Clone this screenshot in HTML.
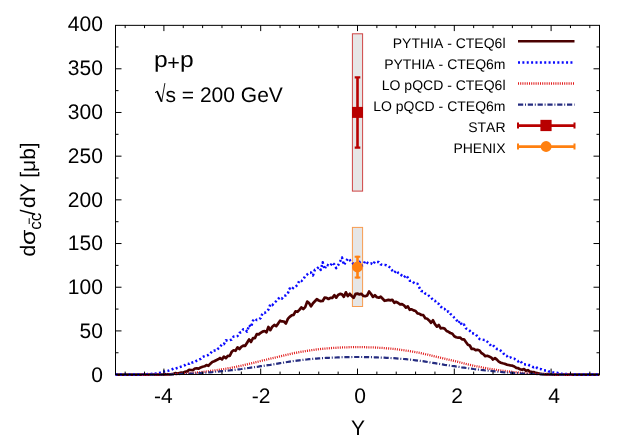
<!DOCTYPE html>
<html><head><meta charset="utf-8"><title>chart</title><style>html,body{margin:0;padding:0;background:#fff}svg{display:block;text-rendering:geometricPrecision;font-kerning:none;will-change:transform}</style></head><body>
<svg width="631" height="442" viewBox="0 0 631 442">
<rect width="631" height="442" fill="#fff"/>
<rect x="352.4" y="33.8" width="10.2" height="157.3" fill="#e6e6e6" stroke="#cf4444" stroke-width="1"/>
<rect x="352.4" y="227.4" width="10.2" height="79.1" fill="#e6e6e6" stroke="#f79c50" stroke-width="1"/>
<g fill="none" stroke-linejoin="round">
<path d="M115.5 374.6 L117.4 374.6 L119.4 374.6 L121.3 374.6 L123.2 374.6 L125.2 374.6 L127.1 374.6 L129.1 374.6 L131.0 374.6 L132.9 374.6 L134.9 374.6 L136.8 374.6 L138.7 374.6 L140.7 374.6 L142.6 374.6 L144.5 374.6 L146.5 374.6 L148.4 374.6 L150.3 374.6 L152.3 374.6 L154.2 374.6 L156.2 374.6 L158.1 374.5 L160.0 374.6 L162.0 374.6 L163.9 374.6 L165.8 374.4 L167.8 374.4 L169.7 374.3 L171.6 374.1 L173.6 373.7 L175.5 373.1 L177.5 373.5 L179.4 373.0 L181.3 372.6 L183.3 372.8 L185.2 371.8 L187.1 371.4 L189.1 369.9 L191.0 370.0 L192.9 370.2 L194.9 368.5 L196.8 368.4 L198.7 368.7 L200.7 367.4 L202.6 366.7 L204.6 366.3 L206.5 365.0 L208.4 365.9 L210.4 363.7 L212.3 362.0 L214.2 361.3 L216.2 360.2 L218.1 359.3 L220.0 358.0 L222.0 359.4 L223.9 356.6 L225.9 358.1 L227.8 355.8 L229.7 356.0 L231.7 351.8 L233.6 350.3 L235.5 350.8 L237.5 347.4 L239.4 349.0 L241.3 346.8 L243.3 345.6 L245.2 345.8 L247.1 342.7 L249.1 339.5 L251.0 342.0 L253.0 338.1 L254.9 338.1 L256.8 334.0 L258.8 334.4 L260.7 332.8 L262.6 331.6 L264.6 331.0 L266.5 332.3 L268.4 327.0 L270.4 330.2 L272.3 326.7 L274.3 325.0 L276.2 326.2 L278.1 323.6 L280.1 320.7 L282.0 321.4 L283.9 321.5 L285.9 323.5 L287.8 318.9 L289.7 316.8 L291.7 315.3 L293.6 314.9 L295.5 311.3 L297.5 311.8 L299.4 309.9 L301.4 307.4 L303.3 309.1 L305.2 307.1 L307.2 301.6 L309.1 303.1 L311.0 306.3 L313.0 303.2 L314.9 301.2 L316.8 299.2 L318.8 300.5 L320.7 301.2 L322.7 301.0 L324.6 297.7 L326.5 297.8 L328.5 299.0 L330.4 297.9 L332.3 297.9 L334.3 295.2 L336.2 297.6 L338.1 295.0 L340.1 293.9 L342.0 294.4 L343.9 296.8 L345.9 292.3 L347.8 296.1 L349.8 293.8 L351.7 296.0 L353.6 297.9 L355.6 293.8 L357.5 293.6 L359.4 294.4 L361.4 293.8 L363.3 295.9 L365.2 296.2 L367.2 295.4 L369.1 291.5 L371.1 294.0 L373.0 296.9 L374.9 295.2 L376.9 297.3 L378.8 297.7 L380.7 296.7 L382.7 298.8 L384.6 300.8 L386.5 300.4 L388.5 299.9 L390.4 300.4 L392.3 299.8 L394.3 302.8 L396.2 301.8 L398.2 303.0 L400.1 304.4 L402.0 304.1 L404.0 305.3 L405.9 307.6 L407.8 306.3 L409.8 309.8 L411.7 309.3 L413.6 310.4 L415.6 311.0 L417.5 313.4 L419.5 313.8 L421.4 315.0 L423.3 315.1 L425.3 318.3 L427.2 318.7 L429.1 320.4 L431.1 322.8 L433.0 320.3 L434.9 324.1 L436.9 326.6 L438.8 325.0 L440.7 328.3 L442.7 328.0 L444.6 328.6 L446.6 331.0 L448.5 331.8 L450.4 333.0 L452.4 333.8 L454.3 336.3 L456.2 337.3 L458.2 337.7 L460.1 337.5 L462.0 339.4 L464.0 339.3 L465.9 342.0 L467.9 344.7 L469.8 345.5 L471.7 349.0 L473.7 348.9 L475.6 350.1 L477.5 349.8 L479.5 350.5 L481.4 353.0 L483.3 354.1 L485.3 356.2 L487.2 355.8 L489.1 356.6 L491.1 357.4 L493.0 359.5 L495.0 358.1 L496.9 359.6 L498.8 361.6 L500.8 362.7 L502.7 363.3 L504.6 363.7 L506.6 364.6 L508.5 365.0 L510.4 365.4 L512.4 365.7 L514.3 366.5 L516.3 367.9 L518.2 368.2 L520.1 369.2 L522.1 369.8 L524.0 369.1 L525.9 370.8 L527.9 370.2 L529.8 371.6 L531.7 371.9 L533.7 372.1 L535.6 372.9 L537.5 373.2 L539.5 373.6 L541.4 373.9 L543.4 374.1 L545.3 374.3 L547.2 374.2 L549.2 374.5 L551.1 374.4 L553.0 374.6 L555.0 374.6 L556.9 374.6 L558.8 374.6 L560.8 374.6 L562.7 374.6 L564.7 374.6 L566.6 374.6 L568.5 374.6 L570.5 374.6 L572.4 374.6 L574.3 374.6 L576.3 374.6 L578.2 374.6 L580.1 374.6 L582.1 374.6 L584.0 374.6 L585.9 374.6 L587.9 374.6 L589.8 374.6 L591.8 374.6 L593.7 374.6 L595.6 374.6 L597.6 374.6 L599.5 374.6" stroke="#4a0000" stroke-width="2.7"/>
<path d="M115.5 374.6 L117.4 374.6 L119.4 374.6 L121.3 374.6 L123.2 374.6 L125.2 374.6 L127.1 374.6 L129.1 374.6 L131.0 374.6 L132.9 374.6 L134.9 374.6 L136.8 374.6 L138.7 374.6 L140.7 374.5 L142.6 374.6 L144.5 374.5 L146.5 374.2 L148.4 374.0 L150.3 374.3 L152.3 373.8 L154.2 373.8 L156.2 373.5 L158.1 373.2 L160.0 372.7 L162.0 371.9 L163.9 371.6 L165.8 371.3 L167.8 370.9 L169.7 370.2 L171.6 369.6 L173.6 368.6 L175.5 368.7 L177.5 367.8 L179.4 367.2 L181.3 366.5 L183.3 365.7 L185.2 365.0 L187.1 363.6 L189.1 363.8 L191.0 362.0 L192.9 362.5 L194.9 361.8 L196.8 360.6 L198.7 359.6 L200.7 358.8 L202.6 357.0 L204.6 356.1 L206.5 355.5 L208.4 355.0 L210.4 353.6 L212.3 350.8 L214.2 350.5 L216.2 350.7 L218.1 348.7 L220.0 347.2 L222.0 344.1 L223.9 344.2 L225.9 340.3 L227.8 340.9 L229.7 340.2 L231.7 339.6 L233.6 336.6 L235.5 336.7 L237.5 336.1 L239.4 332.9 L241.3 332.2 L243.3 329.2 L245.2 329.3 L247.1 331.6 L249.1 325.1 L251.0 327.1 L253.0 320.7 L254.9 318.6 L256.8 320.1 L258.8 319.5 L260.7 318.1 L262.6 313.0 L264.6 312.9 L266.5 311.8 L268.4 309.6 L270.4 304.2 L272.3 305.2 L274.3 302.9 L276.2 301.1 L278.1 299.0 L280.1 297.2 L282.0 298.6 L283.9 296.0 L285.9 295.3 L287.8 293.5 L289.7 288.5 L291.7 289.8 L293.6 287.3 L295.5 286.8 L297.5 284.9 L299.4 280.5 L301.4 281.1 L303.3 279.4 L305.2 275.9 L307.2 274.4 L309.1 272.6 L311.0 272.6 L313.0 275.4 L314.9 269.6 L316.8 268.9 L318.8 267.0 L320.7 269.9 L322.7 262.3 L324.6 269.3 L326.5 264.6 L328.5 265.4 L330.4 265.9 L332.3 262.6 L334.3 264.4 L336.2 268.1 L338.1 265.3 L340.1 261.5 L342.0 257.5 L343.9 265.0 L345.9 261.8 L347.8 258.5 L349.8 260.1 L351.7 262.0 L353.6 264.1 L355.6 264.8 L357.5 262.6 L359.4 261.8 L361.4 265.9 L363.3 264.9 L365.2 261.0 L367.2 262.7 L369.1 263.8 L371.1 263.4 L373.0 264.6 L374.9 261.5 L376.9 261.9 L378.8 262.0 L380.7 264.4 L382.7 265.0 L384.6 264.9 L386.5 265.3 L388.5 266.5 L390.4 267.6 L392.3 270.6 L394.3 272.7 L396.2 270.6 L398.2 272.8 L400.1 273.7 L402.0 275.8 L404.0 277.3 L405.9 275.3 L407.8 277.6 L409.8 280.8 L411.7 280.7 L413.6 282.5 L415.6 284.0 L417.5 283.8 L419.5 288.0 L421.4 291.0 L423.3 291.2 L425.3 293.6 L427.2 294.0 L429.1 296.0 L431.1 297.5 L433.0 300.1 L434.9 300.7 L436.9 303.3 L438.8 303.9 L440.7 306.4 L442.7 308.8 L444.6 308.9 L446.6 311.7 L448.5 311.4 L450.4 313.9 L452.4 315.6 L454.3 317.6 L456.2 319.4 L458.2 323.1 L460.1 321.0 L462.0 325.5 L464.0 324.6 L465.9 328.4 L467.9 329.2 L469.8 330.8 L471.7 333.3 L473.7 333.6 L475.6 334.2 L477.5 336.7 L479.5 339.0 L481.4 339.5 L483.3 339.8 L485.3 340.0 L487.2 341.6 L489.1 343.4 L491.1 346.0 L493.0 345.2 L495.0 347.4 L496.9 349.0 L498.8 349.2 L500.8 350.8 L502.7 352.3 L504.6 355.1 L506.6 355.8 L508.5 357.9 L510.4 357.4 L512.4 358.5 L514.3 358.7 L516.3 360.1 L518.2 361.4 L520.1 360.4 L522.1 363.3 L524.0 364.2 L525.9 364.4 L527.9 364.4 L529.8 365.6 L531.7 366.3 L533.7 367.3 L535.6 366.6 L537.5 368.3 L539.5 369.1 L541.4 369.2 L543.4 370.1 L545.3 370.4 L547.2 370.3 L549.2 371.6 L551.1 371.9 L553.0 372.4 L555.0 372.7 L556.9 372.8 L558.8 373.2 L560.8 373.7 L562.7 374.0 L564.7 374.1 L566.6 374.1 L568.5 374.4 L570.5 374.5 L572.4 374.6 L574.3 374.5 L576.3 374.6 L578.2 374.6 L580.1 374.6 L582.1 374.6 L584.0 374.6 L585.9 374.6 L587.9 374.6 L589.8 374.6 L591.8 374.6 L593.7 374.6 L595.6 374.6 L597.6 374.6 L599.5 374.6" stroke="#0a0aff" stroke-width="2.5" stroke-dasharray="2 2.37"/>
<path d="M142.1 374.6 L144.5 374.6 L147.0 374.6 L149.4 374.6 L151.8 374.6 L154.2 374.6 L156.6 374.5 L159.1 374.5 L161.5 374.5 L163.9 374.4 L166.3 374.4 L168.7 374.3 L171.2 374.2 L173.6 374.2 L176.0 374.1 L178.4 373.9 L180.8 373.8 L183.3 373.6 L185.7 373.5 L188.1 373.3 L190.5 373.1 L192.9 372.9 L195.4 372.7 L197.8 372.4 L200.2 372.2 L202.6 371.9 L205.0 371.6 L207.5 371.4 L209.9 371.0 L212.3 370.7 L214.7 370.4 L217.1 370.1 L219.6 369.7 L222.0 369.3 L224.4 369.0 L226.8 368.6 L229.2 368.1 L231.7 367.7 L234.1 367.2 L236.5 366.7 L238.9 366.2 L241.3 365.7 L243.8 365.1 L246.2 364.6 L248.6 364.0 L251.0 363.4 L253.4 362.8 L255.9 362.2 L258.3 361.6 L260.7 361.0 L263.1 360.4 L265.5 359.9 L268.0 359.3 L270.4 358.7 L272.8 358.1 L275.2 357.6 L277.6 357.0 L280.1 356.4 L282.5 355.8 L284.9 355.2 L287.3 354.6 L289.7 354.1 L292.2 353.5 L294.6 353.0 L297.0 352.6 L299.4 352.1 L301.8 351.7 L304.3 351.3 L306.7 350.9 L309.1 350.6 L311.5 350.2 L313.9 349.9 L316.4 349.5 L318.8 349.2 L321.2 348.9 L323.6 348.7 L326.0 348.5 L328.5 348.3 L330.9 348.1 L333.3 347.9 L335.7 347.8 L338.1 347.6 L340.6 347.5 L343.0 347.4 L345.4 347.3 L347.8 347.3 L350.2 347.2 L352.7 347.1 L355.1 347.1 L357.5 347.1 L359.9 347.1 L362.3 347.1 L364.8 347.2 L367.2 347.3 L369.6 347.3 L372.0 347.4 L374.4 347.5 L376.9 347.6 L379.3 347.8 L381.7 347.9 L384.1 348.1 L386.5 348.3 L389.0 348.5 L391.4 348.7 L393.8 348.9 L396.2 349.2 L398.6 349.5 L401.1 349.9 L403.5 350.2 L405.9 350.6 L408.3 350.9 L410.7 351.3 L413.2 351.7 L415.6 352.1 L418.0 352.6 L420.4 353.0 L422.8 353.5 L425.3 354.1 L427.7 354.6 L430.1 355.2 L432.5 355.8 L434.9 356.4 L437.4 357.0 L439.8 357.6 L442.2 358.1 L444.6 358.7 L447.0 359.3 L449.5 359.9 L451.9 360.4 L454.3 361.0 L456.7 361.6 L459.1 362.2 L461.6 362.8 L464.0 363.4 L466.4 364.0 L468.8 364.6 L471.2 365.1 L473.7 365.7 L476.1 366.2 L478.5 366.7 L480.9 367.2 L483.3 367.7 L485.8 368.1 L488.2 368.6 L490.6 369.0 L493.0 369.3 L495.4 369.7 L497.9 370.1 L500.3 370.4 L502.7 370.7 L505.1 371.0 L507.5 371.4 L510.0 371.6 L512.4 371.9 L514.8 372.2 L517.2 372.4 L519.6 372.7 L522.1 372.9 L524.5 373.1 L526.9 373.3 L529.3 373.5 L531.7 373.6 L534.2 373.8 L536.6 373.9 L539.0 374.1 L541.4 374.2 L543.8 374.2 L546.3 374.3 L548.7 374.4 L551.1 374.4 L553.5 374.5 L555.9 374.5 L558.4 374.5 L560.8 374.6 L563.2 374.6 L565.6 374.6 L568.0 374.6 L570.5 374.6 L572.9 374.6" stroke="#e01818" stroke-width="2.3" stroke-dasharray="1 1.2"/>
<path d="M149.4 374.6 L151.8 374.6 L154.2 374.6 L156.6 374.6 L159.1 374.6 L161.5 374.5 L163.9 374.5 L166.3 374.4 L168.7 374.4 L171.2 374.3 L173.6 374.3 L176.0 374.2 L178.4 374.1 L180.8 374.0 L183.3 373.9 L185.7 373.8 L188.1 373.7 L190.5 373.6 L192.9 373.5 L195.4 373.4 L197.8 373.2 L200.2 373.1 L202.6 372.9 L205.0 372.7 L207.5 372.5 L209.9 372.3 L212.3 372.1 L214.7 371.8 L217.1 371.6 L219.6 371.4 L222.0 371.1 L224.4 370.9 L226.8 370.7 L229.2 370.5 L231.7 370.2 L234.1 370.0 L236.5 369.6 L238.9 369.3 L241.3 369.0 L243.8 368.6 L246.2 368.3 L248.6 368.0 L251.0 367.6 L253.4 367.3 L255.9 366.9 L258.3 366.6 L260.7 366.2 L263.1 365.9 L265.5 365.5 L268.0 365.1 L270.4 364.8 L272.8 364.4 L275.2 364.0 L277.6 363.6 L280.1 363.2 L282.5 362.8 L284.9 362.4 L287.3 362.0 L289.7 361.6 L292.2 361.2 L294.6 360.9 L297.0 360.6 L299.4 360.3 L301.8 360.0 L304.3 359.7 L306.7 359.5 L309.1 359.2 L311.5 359.0 L313.9 358.8 L316.4 358.6 L318.8 358.4 L321.2 358.2 L323.6 358.1 L326.0 357.9 L328.5 357.8 L330.9 357.7 L333.3 357.6 L335.7 357.5 L338.1 357.4 L340.6 357.3 L343.0 357.2 L345.4 357.2 L347.8 357.1 L350.2 357.1 L352.7 357.0 L355.1 357.0 L357.5 357.0 L359.9 357.0 L362.3 357.0 L364.8 357.1 L367.2 357.1 L369.6 357.2 L372.0 357.2 L374.4 357.3 L376.9 357.4 L379.3 357.5 L381.7 357.6 L384.1 357.7 L386.5 357.8 L389.0 357.9 L391.4 358.1 L393.8 358.2 L396.2 358.4 L398.6 358.6 L401.1 358.8 L403.5 359.0 L405.9 359.2 L408.3 359.5 L410.7 359.7 L413.2 360.0 L415.6 360.3 L418.0 360.6 L420.4 360.9 L422.8 361.2 L425.3 361.6 L427.7 362.0 L430.1 362.4 L432.5 362.8 L434.9 363.2 L437.4 363.6 L439.8 364.0 L442.2 364.4 L444.6 364.8 L447.0 365.1 L449.5 365.5 L451.9 365.9 L454.3 366.2 L456.7 366.6 L459.1 366.9 L461.6 367.3 L464.0 367.6 L466.4 368.0 L468.8 368.3 L471.2 368.6 L473.7 369.0 L476.1 369.3 L478.5 369.6 L480.9 370.0 L483.3 370.2 L485.8 370.5 L488.2 370.7 L490.6 370.9 L493.0 371.1 L495.4 371.4 L497.9 371.6 L500.3 371.8 L502.7 372.1 L505.1 372.3 L507.5 372.5 L510.0 372.7 L512.4 372.9 L514.8 373.1 L517.2 373.2 L519.6 373.4 L522.1 373.5 L524.5 373.6 L526.9 373.7 L529.3 373.8 L531.7 373.9 L534.2 374.0 L536.6 374.1 L539.0 374.2 L541.4 374.3 L543.8 374.3 L546.3 374.4 L548.7 374.4 L551.1 374.5 L553.5 374.5 L555.9 374.6 L558.4 374.6 L560.8 374.6 L563.2 374.6 L565.6 374.6" stroke="#252c80" stroke-width="2.2" stroke-dasharray="5.2 1.8 1 1.8"/>
</g>
<g stroke="#000" stroke-width="1" fill="none">
<rect x="115.5" y="25.35" width="484.0" height="349.15"/>
<path d="M125.18 374.6v-3M125.18 25.1v3M144.54 374.6v-3M144.54 25.1v3M163.90 374.6v-6M163.90 25.1v6M183.26 374.6v-3M183.26 25.1v3M202.62 374.6v-3M202.62 25.1v3M221.98 374.6v-3M221.98 25.1v3M241.34 374.6v-3M241.34 25.1v3M260.70 374.6v-6M260.70 25.1v6M280.06 374.6v-3M280.06 25.1v3M299.42 374.6v-3M299.42 25.1v3M318.78 374.6v-3M318.78 25.1v3M338.14 374.6v-3M338.14 25.1v3M357.50 374.6v-6M357.50 25.1v6M376.86 374.6v-3M376.86 25.1v3M396.22 374.6v-3M396.22 25.1v3M415.58 374.6v-3M415.58 25.1v3M434.94 374.6v-3M434.94 25.1v3M454.30 374.6v-6M454.30 25.1v6M473.66 374.6v-3M473.66 25.1v3M493.02 374.6v-3M493.02 25.1v3M512.38 374.6v-3M512.38 25.1v3M531.74 374.6v-3M531.74 25.1v3M551.10 374.6v-6M551.10 25.1v6M570.46 374.6v-3M570.46 25.1v3M589.82 374.6v-3M589.82 25.1v3M115.5 352.76h3M599.5 352.76h-3M115.5 330.91h6M599.5 330.91h-6M115.5 309.07h3M599.5 309.07h-3M115.5 287.23h6M599.5 287.23h-6M115.5 265.38h3M599.5 265.38h-3M115.5 243.54h6M599.5 243.54h-6M115.5 221.69h3M599.5 221.69h-3M115.5 199.85h6M599.5 199.85h-6M115.5 178.01h3M599.5 178.01h-3M115.5 156.16h6M599.5 156.16h-6M115.5 134.32h3M599.5 134.32h-3M115.5 112.48h6M599.5 112.48h-6M115.5 90.63h3M599.5 90.63h-3M115.5 68.79h6M599.5 68.79h-6M115.5 46.94h3M599.5 46.94h-3"/>
</g>
<g stroke="#b80000" fill="none"><path stroke-width="2.6" d="M357.5 77.5V147.4"/><path stroke-width="2.3" d="M354.7 77.38h5.6M354.7 147.58h5.6"/></g>
<rect x="352" y="106.9" width="11" height="11" fill="#b80000"/>
<g stroke="#ff8010" fill="none"><path stroke-width="2.6" d="M357.5 255.8V278.5"/><path stroke-width="2" d="M354.7 256.8h5.6M354.7 277.5h5.6"/></g>
<circle cx="357.4" cy="267" r="5.4" fill="#ff8010"/>
<g fill="none">
<path d="M518 41.25H574.5" stroke="#4a0000" stroke-width="2.6"/>
<path d="M518 62.4H574.5" stroke="#0a0aff" stroke-width="2.5" stroke-dasharray="2 2.37"/>
<path d="M518 83.5H574.5" stroke="#e01818" stroke-width="2.3" stroke-dasharray="1 1.2"/>
<path d="M518 104.6H574.5" stroke="#252c80" stroke-width="2.2" stroke-dasharray="5.2 1.8 1 1.8"/>
<path d="M518 125.6H574.5" stroke="#b80000" stroke-width="2.6"/><path d="M518 122.6v6M574.5 122.6v6" stroke="#b80000" stroke-width="2"/>
<path d="M518 146.6H574.5" stroke="#ff8010" stroke-width="2.6"/><path d="M518 143.6v6M574.5 143.6v6" stroke="#ff8010" stroke-width="2"/>
</g>
<rect x="540.4" y="119.85" width="11.2" height="11.25" fill="#b80000"/>
<circle cx="546.1" cy="146.5" r="5.45" fill="#ff8010"/>
<g font-family="'Liberation Sans', sans-serif" fill="#000">
<text x="505.5" y="47.5" font-size="14" text-anchor="end">PYTHIA - CTEQ6l</text>
<text x="505.5" y="68.7" font-size="14" text-anchor="end">PYTHIA - CTEQ6m</text>
<text x="505.5" y="89.9" font-size="14" text-anchor="end">LO pQCD - CTEQ6l</text>
<text x="505.5" y="111.0" font-size="14" text-anchor="end">LO pQCD - CTEQ6m</text>
<text x="505.5" y="132.0" font-size="14" text-anchor="end">STAR</text>
<text x="505.5" y="153.0" font-size="14" text-anchor="end">PHENIX</text>
<text x="102.9" y="381.9" font-size="21" text-anchor="end">0</text>
<text x="102.9" y="338.1" font-size="21" text-anchor="end">50</text>
<text x="102.9" y="294.2" font-size="21" text-anchor="end">100</text>
<text x="102.9" y="250.4" font-size="21" text-anchor="end">150</text>
<text x="102.9" y="206.5" font-size="21" text-anchor="end">200</text>
<text x="102.9" y="162.7" font-size="21" text-anchor="end">250</text>
<text x="102.9" y="118.9" font-size="21" text-anchor="end">300</text>
<text x="102.9" y="75.0" font-size="21" text-anchor="end">350</text>
<text x="102.9" y="31.2" font-size="21" text-anchor="end">400</text>
<text x="163.4" y="403.2" font-size="21" text-anchor="middle">-4</text>
<text x="261.0" y="403.2" font-size="21" text-anchor="middle">-2</text>
<text x="360.2" y="403.2" font-size="21" text-anchor="middle">0</text>
<text x="457" y="403.2" font-size="21" text-anchor="middle">2</text>
<text x="554" y="403.2" font-size="21" text-anchor="middle">4</text>
<text x="358" y="434.6" font-size="21" text-anchor="middle">Y</text>
<text transform="translate(153.9,67.4) scale(1.1,1)" font-size="22.4">p</text>
<text x="167.3" y="69.6" font-size="21.5">+</text>
<text transform="translate(180.1,67.4) scale(1.1,1)" font-size="22.4">p</text>
<path d="M155 92.7L157.1 91.3" stroke="#000" stroke-width="1" fill="none"/><path d="M157 91.2L161.6 101.6" stroke="#000" stroke-width="1.8" fill="none"/><path d="M161.6 102L164.9 83.1" stroke="#000" stroke-width="0.9" fill="none"/>
<text x="165.5" y="102.1" font-size="21">s = 200 GeV</text>
<g transform="translate(35 256.5) rotate(-90)" font-size="21"><text x="0" y="0">d</text><text transform="translate(11.5 0) scale(1.185 1)">σ</text><text x="26.66" y="5.8" font-size="17">cc</text><text x="41.2" y="0">/</text><text x="48.5" y="0">d<tspan dx="-0.9">Y</tspan><tspan dx="-0.4"> [μb]</tspan></text><path d="M32.5 -5.8h5.8" stroke="#000" stroke-width="1"/></g>
</g>
</svg>
</body></html>
